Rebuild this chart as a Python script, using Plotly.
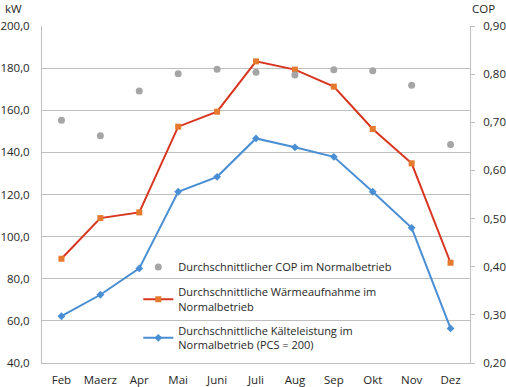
import plotly.graph_objects as go

months = ["Feb", "Maerz", "Apr", "Mai", "Juni", "Juli", "Aug", "Sep", "Okt", "Nov", "Dez"]
cop = [0.704, 0.672, 0.765, 0.801, 0.810, 0.804, 0.798, 0.809, 0.807, 0.777, 0.654]
waerme = [89.5, 108.8, 111.5, 152.2, 159.3, 183.2, 179.3, 171.2, 151.1, 134.8, 87.6]
kaelte = [62.2, 72.4, 84.9, 121.3, 128.4, 146.6, 142.4, 137.9, 121.3, 104.2, 56.4]

names = ["Durchschnittlicher COP im Normalbetrieb",
         "Durchschnittliche Wärmeaufnahme im<br>Normalbetrieb",
         "Durchschnittliche Kälteleistung im<br>Normalbetrieb (PCS = 200)"]

FONT = "Open Sans"
TXT = "#262626"
GRID = "#BFBFBF"

fig = go.Figure()
fig.add_trace(go.Scatter(x=months, y=cop, name=names[0], mode="markers", yaxis="y2",
                         legendgroup="a",
                         marker=dict(symbol="circle", size=7, color="#A5A5A5")))
fig.add_trace(go.Scatter(x=months, y=waerme, name=names[1], mode="lines+markers",
                         legendgroup="b",
                         line=dict(color="#D8341F", width=2),
                         marker=dict(symbol="square", size=6, color="#E57A2E")))
fig.add_trace(go.Scatter(x=months, y=kaelte, name=names[2], mode="lines+markers",
                         legendgroup="c",
                         line=dict(color="#4A8FD4", width=2),
                         marker=dict(symbol="diamond", size=6, color="#4A8FD4")))

fig.update_layout(
    width=506, height=387,
    margin=dict(l=42, r=36, t=26, b=24),
    plot_bgcolor="white", paper_bgcolor="white",
    font=dict(family=FONT, size=11, color=TXT),
    separators=",.",
    showlegend=True,
    legend=dict(x=0.225, y=0.328, xanchor="left", yanchor="top",
                bgcolor="rgba(0,0,0,0)", font=dict(size=11, family=FONT, color=TXT),
                tracegroupgap=7, itemwidth=30),
    xaxis=dict(type="category", showgrid=False, showline=True, linecolor=GRID,
               ticks="", tickfont=dict(size=11.5), range=[-0.5, 10.5],
               automargin=False, ticklabelstandoff=6),
    yaxis=dict(range=[40, 200], dtick=20, tickformat=".1f", showgrid=True,
               gridcolor=GRID, gridwidth=1, showline=True, linecolor=GRID,
               ticks="", zeroline=False, tickfont=dict(size=11.5),
               automargin=False, ticklabelstandoff=9),
    yaxis2=dict(range=[0.2, 0.9], dtick=0.1, tickformat=".2f", overlaying="y",
                side="right", showgrid=False, showline=True, linecolor=GRID,
                ticks="outside", ticklen=4, tickcolor=GRID, zeroline=False,
                tickfont=dict(size=11.5), automargin=False, ticklabelstandoff=6),
)
fig.add_annotation(text="kW", xref="paper", yref="paper", x=-38 / 428, y=1 + 17 / 337,
                   xanchor="left", yanchor="middle", showarrow=False,
                   font=dict(size=11.5), borderpad=0)
fig.add_annotation(text="COP", xref="paper", yref="paper", x=1 + 26 / 428, y=1 + 17 / 337,
                   xanchor="right", yanchor="middle", showarrow=False,
                   font=dict(size=11.5), borderpad=0)

fig.write_html("out.html", config={"displayModeBar": False},
               post_script="document.body.style.margin='0';")
